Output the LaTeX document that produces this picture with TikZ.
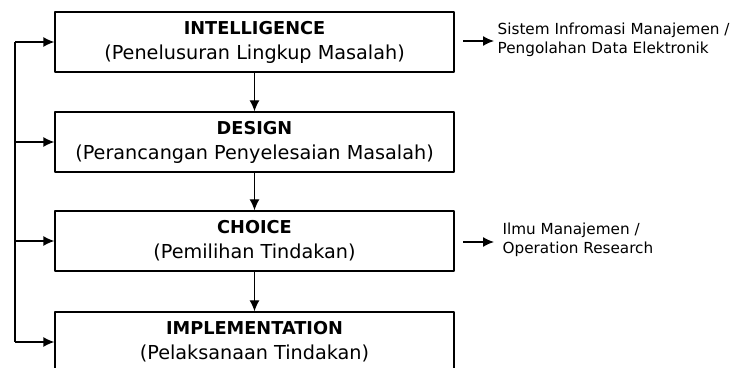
\documentclass[tikz,border=0pt]{standalone}
\usepackage{fontspec}
\setmainfont{DejaVu Sans}
\usepackage{tikz}
\usetikzlibrary{arrows.meta}
\usetikzlibrary{positioning}

\begin{document}
\begin{tikzpicture}[>={Latex[length=11bp,width=10bp]},line join=bevel,line width=1.3bp,
  stage/.style={draw,rectangle,minimum width=399bp,minimum height=60bp,align=center,
    font=\fontsize{19.3}{25}\selectfont},
  note/.style={anchor=west,align=left,inner sep=0pt,font=\fontsize{15.3}{19}\selectfont}]
\useasboundingbox (0bp,0bp) rectangle (739bp,368bp);
%%
\node (I) at (254.5bp,326bp) [stage] {{\fontsize{17.8}{25}\selectfont\bfseries INTELLIGENCE}\\(Penelusuran Lingkup Masalah)};
\node (D) at (254.5bp,226bp) [stage] {{\fontsize{17.8}{25}\selectfont\bfseries DESIGN}\\(Perancangan Penyelesaian Masalah)};
\node (C) at (254.5bp,127bp) [stage] {{\fontsize{17.8}{25}\selectfont\bfseries CHOICE}\\(Pemilihan Tindakan)};
\node (M) at (254.5bp,26bp) [stage] {{\fontsize{17.8}{25}\selectfont\bfseries IMPLEMENTATION}\\(Pelaksanaan Tindakan)};
  \draw [->] (I) -- (D);
  \draw [->] (D) -- (C);
  \draw [->] (C) -- (M);
  % feedback line on the left
  \coordinate (fI) at (15bp,326bp);
  \coordinate (fD) at (15bp,226bp);
  \coordinate (fC) at (15bp,127bp);
  \coordinate (fM) at (15bp,26bp);
  \draw (fI) -- (fM);
  \draw [->] (fI) -- (I);
  \draw [->] (fD) -- (D);
  \draw [->] (fC) -- (C);
  \draw [->] (fM) -- (M);
  % side notes
  \node (sim) at (497bp,328bp) [note] {Sistem Infromasi Manajemen /\\Pengolahan Data Elektronik};
  \node (or) at (502bp,128bp) [note] {Ilmu Manajemen /\\Operation Research};
  \coordinate (sA) at (463bp,327bp);
  \coordinate (sC) at (463bp,126bp);
  \draw [->] (sA) -- ++(31bp,0);
  \draw [->] (sC) -- ++(31bp,0);
%
\end{tikzpicture}
\end{document}
